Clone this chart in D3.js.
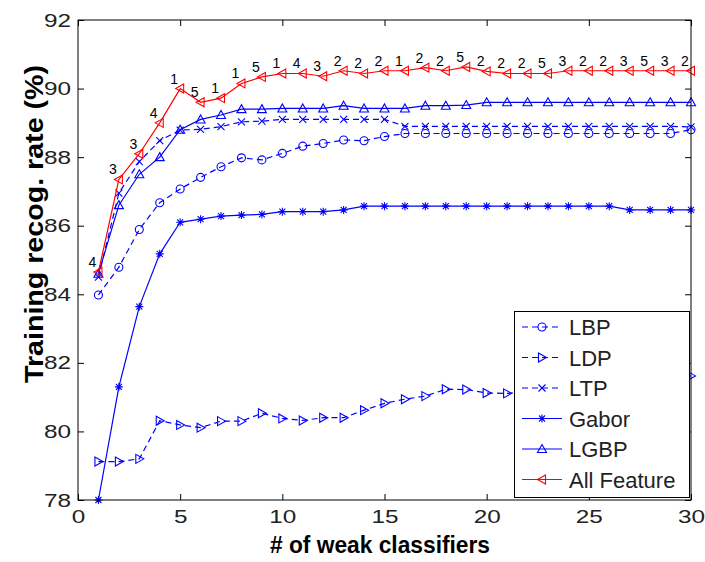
<!DOCTYPE html>
<html>
<head>
<meta charset="utf-8">
<script src="https://cdn.jsdelivr.net/npm/d3@7"></script>
<style>
 body { margin: 0; background: #fff; }
 text { font-family: "Liberation Sans", Arial, sans-serif; }
</style>
</head>
<body>
<svg width="705" height="562"></svg>
<script>

// Data.

var classifiers = [1, 2, 3, 4, 5, 6, 7, 8, 9, 10, 11, 12, 13, 14, 15, 16, 17, 18, 19, 20, 21, 22, 23, 24, 25, 26, 27, 28, 29, 30];

var lbp = [83.98, 84.79, 85.89, 86.67, 87.07, 87.41, 87.72, 87.98, 87.92, 88.11, 88.32, 88.40, 88.50, 88.48, 88.60,
 88.69, 88.69, 88.69, 88.69, 88.69, 88.69, 88.69, 88.69, 88.69, 88.69, 88.69, 88.69, 88.69, 88.69, 88.80];
var ldp = [79.12, 79.12, 79.20, 80.31, 80.19, 80.11, 80.30, 80.30, 80.53, 80.38, 80.32, 80.40, 80.40, 80.62, 80.82,
 80.94, 81.03, 81.23, 81.22, 81.12, 81.11, 81.15, 81.20, 81.25, 81.30, 81.35, 81.40, 81.50, 81.55, 81.62];
var ltp = [84.50, 86.95, 87.87, 88.48, 88.79, 88.81, 88.89, 89.03, 89.05, 89.10, 89.10, 89.10, 89.10, 89.10, 89.10,
 88.90, 88.90, 88.90, 88.90, 88.90, 88.90, 88.90, 88.90, 88.90, 88.90, 88.90, 88.90, 88.90, 88.90, 88.88];
var gabor = [78.00, 81.30, 83.64, 85.18, 86.10, 86.19, 86.28, 86.31, 86.33, 86.41, 86.41, 86.41, 86.46, 86.57, 86.57,
 86.57, 86.57, 86.57, 86.57, 86.57, 86.57, 86.57, 86.57, 86.57, 86.57, 86.57, 86.46, 86.46, 86.46, 86.46];
var lgbp = [84.60, 86.60, 87.50, 88.00, 88.80, 89.10, 89.23, 89.40, 89.40, 89.42, 89.42, 89.42, 89.50, 89.42, 89.42,
 89.42, 89.50, 89.50, 89.52, 89.60, 89.60, 89.60, 89.60, 89.60, 89.60, 89.60, 89.60, 89.60, 89.60, 89.60];
var allFeature = [84.65, 87.35, 88.10, 89.00, 90.00, 89.60, 89.72, 90.15, 90.34, 90.44, 90.44, 90.36, 90.52, 90.44, 90.52,
 90.52, 90.61, 90.52, 90.63, 90.50, 90.44, 90.44, 90.44, 90.52, 90.52, 90.52, 90.52, 90.52, 90.52, 90.52];

// Number written above each red point.
var featureLabels = [4, 3, 3, 4, 1, 5, 1, 1, 5, 1, 4, 3, 2, 2, 2, 1, 2, 2, 5, 2, 2, 2, 5, 3, 2, 2, 3, 5, 3, 2];

var xTicks = [0, 5, 10, 15, 20, 25, 30];
var yTicks = [78, 80, 82, 84, 86, 88, 90, 92];

var seriesNames = ['LBP', 'LDP', 'LTP', 'Gabor', 'LGBP', 'All Feature'];
var seriesValues = [lbp, ldp, ltp, gabor, lgbp, allFeature];
var seriesMarkers = ['circle', 'right', 'cross', 'star', 'up', 'left'];
var seriesColors = ['#0000ff', '#0000ff', '#0000ff', '#0000ff', '#0000ff', '#ff0000'];
var seriesDash = ['6,4', '6,4', '6,4', null, null, null];

// Scales.

var svg = d3.select('svg');
var x = d3.scaleLinear().domain([0, 30]).range([78, 691]);
var y = d3.scaleLinear().domain([78, 92]).range([500, 20]);

svg.append('rect').attr('width', 705).attr('height', 562).attr('fill', '#fff');

// Marker shapes as paths centred on 0,0.

var markerPath = function(kind) {
 if (kind == 'circle') return 'M4,0A4,4 0 1,1 -4,0A4,4 0 1,1 4,0Z';
 if (kind == 'right') return 'M-3.5,-4.5L4.5,0L-3.5,4.5Z';
 if (kind == 'left') return 'M3.5,-4.5L-4.5,0L3.5,4.5Z';
 if (kind == 'up') return 'M0,-4.5L4.5,3.5L-4.5,3.5Z';
 if (kind == 'cross') return 'M-3.5,-3.5L3.5,3.5M-3.5,3.5L3.5,-3.5';
 if (kind == 'star') return 'M-4,0L4,0M0,-4L0,4M-3,-3L3,3M-3,3L3,-3';
 return '';
};

// Lines and markers.

var line = d3.line()
 .x(function(d, i) { return x(classifiers[i]); })
 .y(function(d) { return y(d); });

var plot = svg.append('g');

seriesValues.forEach(function(vals, s) {
 var g = plot.append('g');
 g.append('path')
 .attr('d', line(vals))
 .attr('fill', 'none')
 .attr('stroke', seriesColors[s])
 .attr('stroke-width', 1.2)
 .attr('stroke-dasharray', seriesDash[s]);
 g.selectAll('path.m')
 .data(vals)
 .enter().append('path')
 .attr('class', 'm')
 .attr('transform', function(d, i) { return 'translate(' + x(classifiers[i]) + ',' + y(d) + ')'; })
 .attr('d', markerPath(seriesMarkers[s]))
 .attr('fill', 'none')
 .attr('stroke', seriesColors[s])
 .attr('stroke-width', 1.1);
});

// Red point annotations.

plot.append('g')
 .selectAll('text')
 .data(allFeature)
 .enter().append('text')
 .attr('x', function(d, i) { return x(classifiers[i]) - 6; })
 .attr('y', function(d) { return y(d) - 10; })
 .attr('text-anchor', 'middle')
 .attr('dominant-baseline', 'central')
 .attr('font-size', 14)
 .attr('fill', '#000')
 .text(function(d, i) { return featureLabels[i]; });

// Frame and ticks (inward, on all four sides).

svg.append('rect')
 .attr('x', x(0)).attr('y', y(92))
 .attr('width', x(30) - x(0)).attr('height', y(78) - y(92))
 .attr('fill', 'none').attr('stroke', '#000').attr('stroke-width', 1);

var axBottom = svg.append('g')
 .attr('transform', 'translate(0,' + y(78) + ')')
 .call(d3.axisBottom(x).tickValues(xTicks).tickSize(-6).tickPadding(10));
var axLeft = svg.append('g')
 .attr('transform', 'translate(' + x(0) + ',0)')
 .call(d3.axisLeft(y).tickValues(yTicks).tickSize(-6).tickPadding(5.5));
var axTop = svg.append('g')
 .attr('transform', 'translate(0,' + y(92) + ')')
 .call(d3.axisTop(x).tickValues(xTicks).tickSize(-6).tickFormat(''));
var axRight = svg.append('g')
 .attr('transform', 'translate(' + x(30) + ',0)')
 .call(d3.axisRight(y).tickValues(yTicks).tickSize(-6).tickFormat(''));

[axBottom, axLeft, axTop, axRight].forEach(function(a) {
 a.select('.domain').remove();
 a.selectAll('line').attr('stroke', '#000');
});
[axBottom, axLeft].forEach(function(a) {
 a.selectAll('text')
 .attr('font-family', '"Liberation Sans", Arial, sans-serif')
 .attr('font-size', 19)
 .attr('fill', '#222')
 .attr('transform', 'scale(1.28,1)');
});

// Axis titles.

svg.append('text')
 .attr('x', 380).attr('y', 553)
 .attr('text-anchor', 'middle')
 .attr('font-size', 23)
 .attr('font-weight', 'bold')
 .attr('textLength', 220)
 .attr('lengthAdjust', 'spacingAndGlyphs')
 .text('# of weak classifiers');

svg.append('text')
 .attr('transform', 'translate(43,224) rotate(-90)')
 .attr('text-anchor', 'middle')
 .attr('font-size', 25)
 .attr('font-weight', 'bold')
 .attr('textLength', 318)
 .attr('lengthAdjust', 'spacingAndGlyphs')
 .text('Training recog. rate (%)');

// Legend.

var legend = svg.append('g');
legend.append('rect')
 .attr('x', 514.5).attr('y', 311.5)
 .attr('width', 175).attr('height', 186)
 .attr('fill', '#fff').attr('stroke', '#000').attr('stroke-width', 1);

seriesNames.forEach(function(name, s) {
 var ly = 327 + s * 30.5;
 legend.append('line')
 .attr('x1', 522).attr('x2', 562).attr('y1', ly).attr('y2', ly)
 .attr('stroke', seriesColors[s]).attr('stroke-width', 1.2)
 .attr('stroke-dasharray', seriesDash[s]);
 legend.append('path')
 .attr('transform', 'translate(542,' + ly + ')')
 .attr('d', markerPath(seriesMarkers[s]))
 .attr('fill', 'none').attr('stroke', seriesColors[s]).attr('stroke-width', 1.1);
 legend.append('text')
 .attr('x', 569).attr('y', ly + 8)
 .attr('font-size', 22)
 .attr('fill', '#222')
 .text(name);
});

</script>
</body>
</html>
